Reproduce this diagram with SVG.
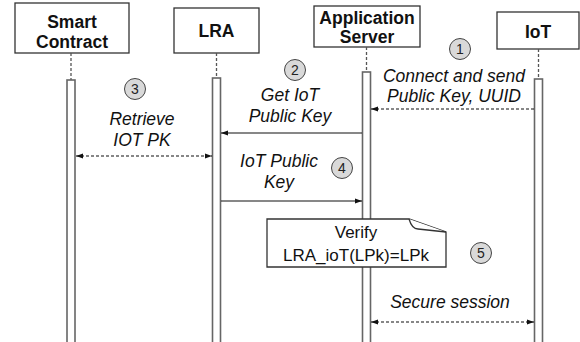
<svg xmlns="http://www.w3.org/2000/svg" width="580" height="342" viewBox="0 0 580 342">
<style>
.box{fill:#fff;stroke:#333;stroke-width:1.3}
.hdr{font-family:"Liberation Sans",Arial,sans-serif;font-weight:bold;font-size:17.5px;fill:#111;text-anchor:middle}
.life{stroke:#555;stroke-width:1.3;stroke-dasharray:3,2;fill:none}
.bar{fill:#fff;stroke:#666;stroke-width:1.6}
.lbl{font-family:"Liberation Sans",Arial,sans-serif;font-style:italic;font-size:17.5px;fill:#111;text-anchor:middle}
.note{font-family:"Liberation Sans",Arial,sans-serif;font-size:17px;fill:#111;text-anchor:middle}
.num circle{fill:#d9d9d9;stroke:#444;stroke-width:1}
.num text{font-family:"Liberation Sans",Arial,sans-serif;font-size:14px;fill:#222;text-anchor:middle}
.msg{stroke:#111;stroke-width:1.1;fill:none}
.dash{stroke-dasharray:3,2}
</style>
<defs>
<marker id="ah" markerWidth="8" markerHeight="6" refX="7" refY="3" orient="auto-start-reverse" markerUnits="userSpaceOnUse">
<path d="M0,0.6 L7,3 L0,5.4 Z" fill="#111"/>
</marker>
</defs>

<g id="smart-contract">
<rect class="box" x="15" y="3" width="114" height="50"/>
<text class="hdr" x="72" y="28">Smart</text>
<text class="hdr" x="72" y="48">Contract</text>
<line class="life" x1="71" y1="53" x2="71" y2="80"/>
<rect class="bar" x="67" y="80" width="8" height="270"/>
</g>

<g id="lra">
<rect class="box" x="174" y="8" width="85" height="45"/>
<text class="hdr" x="216.5" y="37">LRA</text>
<line class="life" x1="216.5" y1="53" x2="216.5" y2="78"/>
<rect class="bar" x="212.5" y="78" width="8" height="272"/>
</g>

<g id="app-server">
<rect class="box" x="314" y="6" width="106" height="41"/>
<text class="hdr" x="367" y="24">Application</text>
<text class="hdr" x="367" y="43">Server</text>
<line class="life" x1="366.5" y1="47" x2="366.5" y2="72"/>
<rect class="bar" x="362.5" y="72" width="8" height="278"/>
</g>

<g id="iot">
<rect class="box" x="497" y="12" width="82" height="37"/>
<text class="hdr" x="538" y="37.5">IoT</text>
<line class="life" x1="538.5" y1="49" x2="538.5" y2="79"/>
<rect class="bar" x="534.5" y="79" width="8" height="271"/>
</g>

<g id="note">
<path class="box" d="M267,219 H409 L446,232 V267 H267 Z"/>
<path class="box" d="M409,219 Q412,229 418,229 L446,232" fill="none"/>
<text class="note" x="356" y="238">Verify</text>
<text class="note" x="356" y="261">LRA_ioT(LPk)=LPk</text>
</g>

<g id="steps" class="num">
<g id="step1"><circle cx="460" cy="49" r="10.5"/><text x="460" y="54">1</text></g>
<g id="step2"><circle cx="295" cy="70" r="10.5"/><text x="295" y="75">2</text></g>
<g id="step3"><circle cx="135" cy="89" r="10.5"/><text x="135" y="94">3</text></g>
<g id="step4"><circle cx="342" cy="168" r="10.5"/><text x="342" y="173">4</text></g>
<g id="step5"><circle cx="481" cy="253" r="10.5"/><text x="481" y="258">5</text></g>
</g>

<g id="labels">
<text class="lbl" x="454" y="82">Connect and send</text>
<text class="lbl" x="454" y="102">Public Key, UUID</text>
<text class="lbl" x="290" y="101">Get IoT</text>
<text class="lbl" x="290" y="122">Public Key</text>
<text class="lbl" x="142" y="125">Retrieve</text>
<text class="lbl" x="142" y="146">IOT PK</text>
<text class="lbl" x="279" y="167">IoT Public</text>
<text class="lbl" x="279" y="188">Key</text>
<text class="lbl" x="450" y="308">Secure session</text>
</g>

<g id="connectors">
<line class="msg dash" x1="534" y1="109" x2="371" y2="109" marker-end="url(#ah)"/>
<line class="msg" x1="362" y1="133" x2="221" y2="133" marker-end="url(#ah)"/>
<line class="msg dash" x1="76" y1="156" x2="212" y2="156" marker-start="url(#ah)" marker-end="url(#ah)"/>
<line class="msg" x1="221" y1="201" x2="362" y2="201" marker-end="url(#ah)"/>
<line class="msg dash" x1="371" y1="322" x2="534" y2="322" marker-start="url(#ah)" marker-end="url(#ah)"/>
</g>
</svg>
